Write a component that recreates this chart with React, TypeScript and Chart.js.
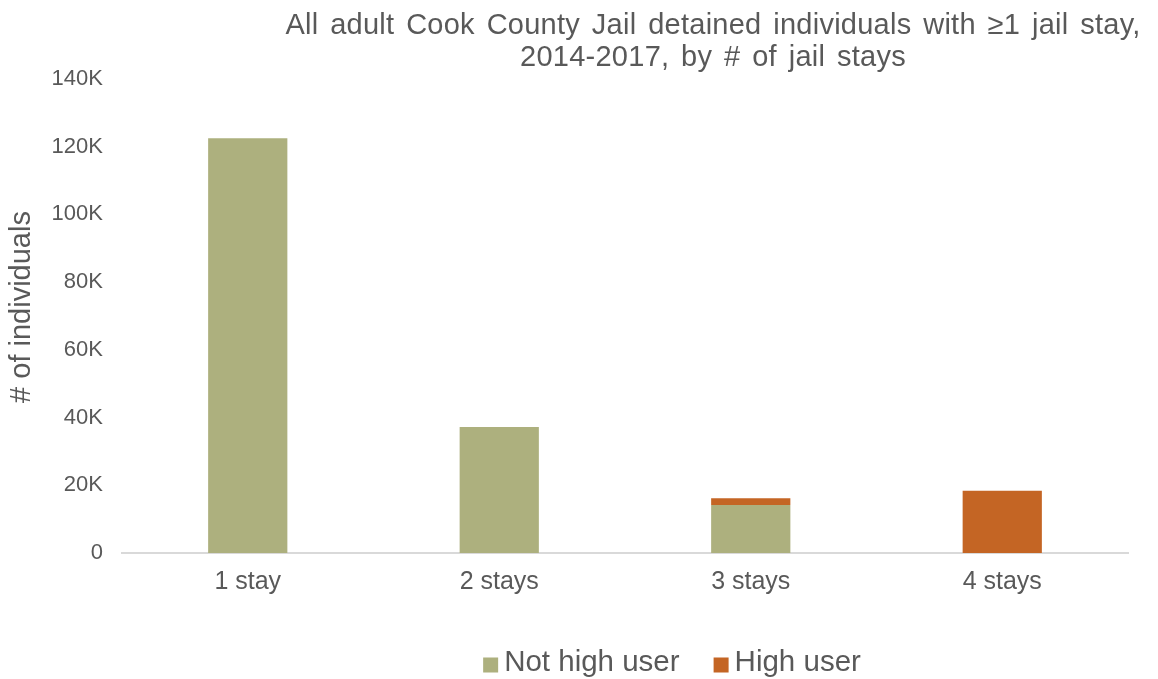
import React, { useEffect, useRef } from "react";
import { Chart, registerables } from "chart.js";

Chart.register(...registerables);

const categories = ["1 stay", "2 stays", "3 stays", "4 stays"];
const notHighUser = [122500, 37200, 14200, null];
const highUser = [null, null, 2000, 18400];
const yTicks = [0, 20000, 40000, 60000, 80000, 100000, 120000, 140000];
const titleLines = [
  "All adult Cook County Jail detained individuals with \u22651 jail stay,",
  "2014-2017, by # of jail stays",
];
const yAxisTitle = "# of individuals";
const seriesNames = ["Not high user", "High user"];
const seriesColors = ["#ADB07E", "#C46524"];

const FONT = "'Liberation Sans', Arial, sans-serif";
const TEXT = "#595959";

const titlePlugin = {
  id: "customTitle",
  afterDraw(chart: any) {
    const ctx = chart.ctx;
    ctx.save();
    ctx.font = `29px ${FONT}`;
    ctx.fillStyle = TEXT;
    ctx.textAlign = "center";
    ctx.textBaseline = "middle";
    try {
      ctx.wordSpacing = "3.5px";
      ctx.letterSpacing = "0.25px";
    } catch (e) {}
    const cx = 705;
    titleLines.forEach((line, i) => {
      ctx.fillText(line, cx, 18 + i * 32);
    });
    ctx.restore();

    // y-axis title
    ctx.save();
    ctx.font = `29px ${FONT}`;
    ctx.fillStyle = TEXT;
    ctx.textAlign = "center";
    ctx.textBaseline = "middle";
    ctx.translate(14, 299);
    ctx.rotate(-Math.PI / 2);
    ctx.fillText(yAxisTitle, 0, 0);
    ctx.restore();
  },
};

const legendPlugin = {
  id: "customLegend",
  afterDraw(chart: any) {
    const ctx = chart.ctx;
    ctx.save();
    ctx.font = `29.5px ${FONT}`;
    ctx.textBaseline = "middle";
    ctx.textAlign = "left";
    const box = 15;
    const gap = 6;
    const spacing = 34;
    const widths = seriesNames.map((n) => ctx.measureText(n).width);
    const total =
      widths.reduce((a, b) => a + b, 0) + seriesNames.length * (box + gap) + spacing * (seriesNames.length - 1);
    let x = 664 - total / 2;
    const cy = 655;
    seriesNames.forEach((name, i) => {
      ctx.fillStyle = seriesColors[i];
      ctx.fillRect(x, cy - box / 2 + 2, box, box);
      x += box + gap;
      ctx.fillStyle = TEXT;
      ctx.fillText(name, x, cy);
      x += widths[i] + spacing;
    });
    ctx.restore();
  },
};

export default function App() {
  const ref = useRef<HTMLCanvasElement>(null);
  useEffect(() => {
    if (!ref.current) return;
    const chart = new Chart(ref.current, {
      type: "bar",
      data: {
        labels: categories,
        datasets: [
          {
            label: seriesNames[0],
            data: notHighUser,
            backgroundColor: seriesColors[0],
            barPercentage: 0.315,
            categoryPercentage: 1,
          },
          {
            label: seriesNames[1],
            data: highUser,
            backgroundColor: seriesColors[1],
            barPercentage: 0.315,
            categoryPercentage: 1,
          },
        ],
      },
      options: {
        animation: false,
        responsive: false,
        layout: { padding: { top: 71, right: 22, bottom: 76, left: 0 } },
        plugins: {
          legend: { display: false },
          title: { display: false },
          tooltip: { enabled: false },
        },
        scales: {
          x: {
            stacked: true,
            grid: { display: false, drawTicks: false },
            border: { display: true, color: "#D9D9D9", width: 2 },
            ticks: { color: TEXT, font: { family: FONT, size: 25 }, padding: 14 },
            afterFit: (s: any) => {
              s.height = 50;
            },
          },
          y: {
            stacked: true,
            min: 0,
            max: 140000,
            afterBuildTicks: (s: any) => {
              s.ticks = yTicks.map((v) => ({ value: v }));
            },
            grid: { display: false, drawTicks: false },
            border: { display: false },
            ticks: {
              color: TEXT,
              font: { family: FONT, size: 22 },
              padding: 19,
              callback: (v: any) => (v === 0 ? "0" : `${v / 1000}K`),
            },
            afterFit: (s: any) => {
              s.width = 114;
            },
          },
        },
      },
      plugins: [titlePlugin, legendPlugin],
    });
    return () => chart.destroy();
  }, []);
  return (
    <div style={{ width: 1142, height: 671 }}>
      <canvas ref={ref} width={1142} height={671} style={{ display: "block" }} />
    </div>
  );
}
